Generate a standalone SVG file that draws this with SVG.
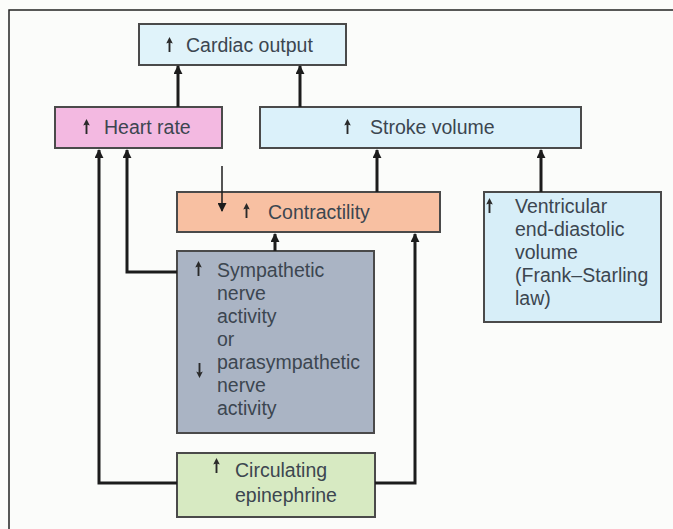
<svg xmlns="http://www.w3.org/2000/svg" width="673" height="529" viewBox="0 0 673 529">
<style>
.box{stroke:#4a4a4a;stroke-width:2}
.t{font-family:"Liberation Sans",Arial,sans-serif;font-size:19.5px;fill:#3c4650}
.c{stroke:#1c1c1c;stroke-width:3;fill:none}
.thin{stroke:#1c1c1c;stroke-width:1.5;fill:none}
.ind{fill:#2a2a2a}
</style>
<defs>
<marker id="ah" viewBox="0 0 10 10" refX="9" refY="5" markerWidth="3.2" markerHeight="3" orient="auto" markerUnits="strokeWidth">
<path d="M0,0 L10,5 L0,10 z" fill="#1c1c1c"/>
</marker>
<marker id="ahThin" viewBox="0 0 10 10" refX="9" refY="5" markerWidth="7" markerHeight="6" orient="auto" markerUnits="strokeWidth">
<path d="M0,0 L10,5 L0,10 z" fill="#1c1c1c"/>
</marker>
<symbol id="up" viewBox="0 0 7 16" overflow="visible">
<path d="M3.5,0 L7,7 L4.5,6 L4.5,16 L2.5,16 L2.5,6 L0,7 z"/>
</symbol>
<symbol id="down" viewBox="0 0 7 16" overflow="visible">
<path d="M3.5,16 L7,9 L4.5,10 L4.5,0 L2.5,0 L2.5,10 L0,9 z"/>
</symbol>
</defs>
<rect x="0" y="0" width="673" height="529" fill="#fbfcfa"/>
<path d="M9,529 V10 H673" stroke="#222" stroke-width="1.5" fill="none"/>

<g id="cardiac-output">
<rect class="box" x="139" y="24" width="207" height="41" fill="#e0f3fa"/>
<use href="#up" class="ind" x="166" y="37" width="7" height="15"/>
<text class="t" x="186" y="52">Cardiac output</text>
</g>

<g id="heart-rate">
<rect class="box" x="55" y="107" width="167" height="41" fill="#f3b9e1"/>
<use href="#up" class="ind" x="83" y="119" width="7" height="15"/>
<text class="t" x="104" y="134">Heart rate</text>
</g>

<g id="stroke-volume">
<rect class="box" x="260" y="107" width="321" height="41" fill="#dbf1fa"/>
<use href="#up" class="ind" x="344" y="119" width="7" height="15"/>
<text class="t" x="370" y="134">Stroke volume</text>
</g>

<g id="contractility">
<rect class="box" x="177" y="192" width="263" height="40" fill="#f8c0a2"/>
<use href="#up" class="ind" x="243" y="203" width="7" height="15"/>
<text class="t" x="268" y="219">Contractility</text>
</g>

<g id="ventricular">
<rect class="box" x="484" y="192" width="177" height="130" fill="#d7eef8"/>
<use href="#up" class="ind" x="486" y="198" width="7" height="15"/>
<text class="t" x="515" y="213">Ventricular</text>
<text class="t" x="515" y="236">end-diastolic</text>
<text class="t" x="515" y="259">volume</text>
<text class="t" x="515" y="282">(Frank–Starling</text>
<text class="t" x="515" y="305">law)</text>
</g>

<g id="sympathetic">
<rect class="box" x="177" y="251" width="197" height="182" fill="#aab4c4"/>
<use href="#up" class="ind" x="195" y="261" width="7" height="15"/>
<text class="t" x="217" y="277">Sympathetic</text>
<text class="t" x="217" y="300">nerve</text>
<text class="t" x="217" y="323">activity</text>
<text class="t" x="217" y="346">or</text>
<use href="#down" class="ind" x="196" y="363" width="7" height="15"/>
<text class="t" x="217" y="369">parasympathetic</text>
<text class="t" x="217" y="392">nerve</text>
<text class="t" x="217" y="415">activity</text>
</g>

<g id="epinephrine">
<rect class="box" x="177" y="453" width="198" height="64" fill="#d7eac2"/>
<use href="#up" class="ind" x="213" y="458" width="7" height="15"/>
<text class="t" x="235" y="477">Circulating</text>
<text class="t" x="235" y="502">epinephrine</text>
</g>

<g id="connectors">
<path class="c" d="M178,107 V66" marker-end="url(#ah)"/>
<path class="c" d="M300,107 V66" marker-end="url(#ah)"/>
<path class="c" d="M377,192 V150" marker-end="url(#ah)"/>
<path class="c" d="M541,192 V150" marker-end="url(#ah)"/>
<path class="c" d="M177,483 H99 V150" marker-end="url(#ah)"/>
<path class="c" d="M177,272 H127 V150" marker-end="url(#ah)"/>
<path class="c" d="M275,251 V234" marker-end="url(#ah)"/>
<path class="c" d="M375,483 H415 V234" marker-end="url(#ah)"/>
<path class="thin" d="M222,166 V211" marker-end="url(#ahThin)"/>
</g>
</svg>
